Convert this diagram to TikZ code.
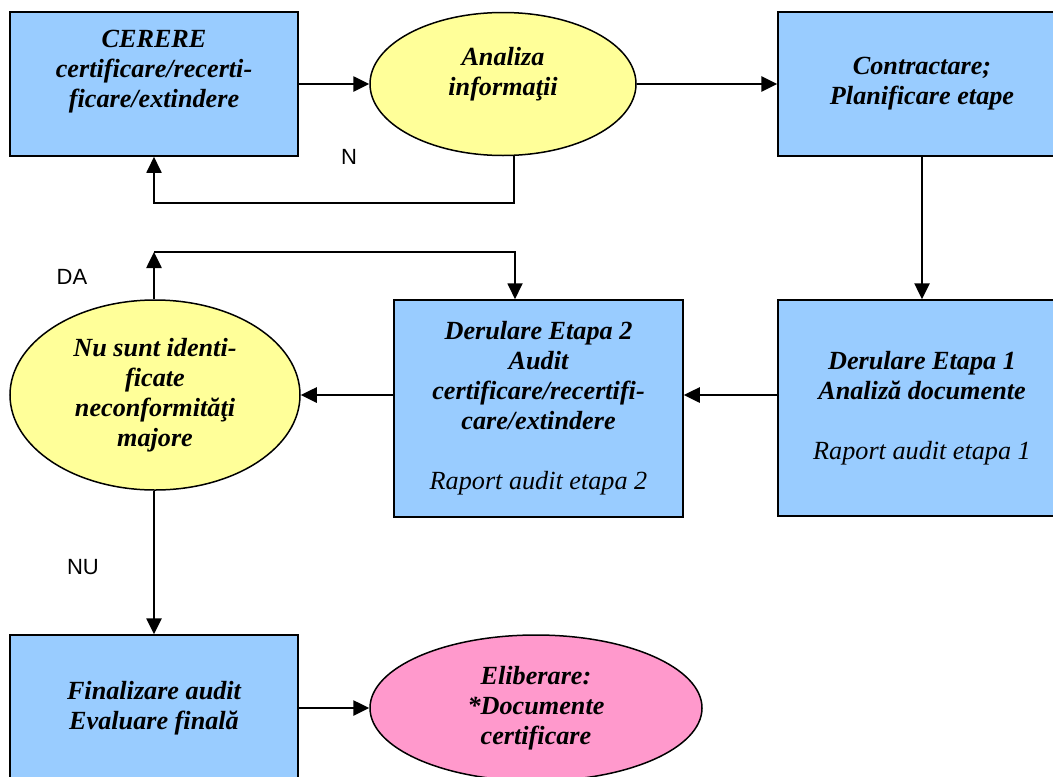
\documentclass[tikz,border=0pt]{standalone}
\usepackage{fontspec}
\setmainfont{Liberation Serif}
\newfontfamily\lblfont{Liberation Sans}
\usetikzlibrary{shapes.geometric,arrows.meta}
\definecolor{boxblue}{HTML}{99CCFF}
\definecolor{ellyellow}{HTML}{FFFF99}
\definecolor{ellpink}{HTML}{FF99CC}
\tikzset{
  txtstyle/.style={align=center,font=\fontsize{13.1pt}{15pt}\selectfont\bfseries\itshape,inner sep=0pt},
  bluebox/.style={draw=black,line width=0.75pt,fill=boxblue,rectangle,inner sep=0pt,minimum width=144pt,minimum height=72pt},
  yellowell/.style={draw=black,line width=0.75pt,fill=ellyellow,ellipse,inner sep=0pt},
  pinkell/.style={draw=black,line width=0.75pt,fill=ellpink,ellipse,inner sep=0pt},
  conn/.style={line width=1.3pt,-{Triangle[length=8pt,width=7.5pt]}},
  thinconn/.style={line width=0.9pt,-{Triangle[length=8pt,width=7.5pt]}},
  lbl/.style={font=\lblfont\fontsize{11pt}{13pt}\selectfont,inner sep=0pt},
}
\begin{document}
\begin{tikzpicture}[x=0.5pt,y=-0.5pt]
\useasboundingbox (0,0) rectangle (1053,776);
\clip (0,0) rectangle (1053,776);
% shapes
\node[bluebox] (cerere) at (154,84) {};
\node[txtstyle] (cerereT) at (154,72) {CERERE\\certificare/recerti-\\ficare/extindere};
\node[yellowell,minimum width=133pt,minimum height=71.5pt] (analiza) at (503,84) {};
\node[txtstyle] (analizaT) at (503,74) {Analiza\\informaţii};
\node[bluebox,txtstyle,minimum width=144pt,minimum height=72pt] (contr) at (922,84) {Contractare;\\Planificare etape};
\node[bluebox,txtstyle,minimum width=144pt,minimum height=108pt] (e1) at (922,408) {Derulare Etapa 1\\Analiză documente\\[15pt]{\mdseries Raport audit etapa 1}};
\node[bluebox,txtstyle,minimum width=144.5pt,minimum height=108.5pt] (e2) at (538.5,408.5) {Derulare Etapa 2\\Audit\\certificare/recertifi-\\care/extindere\\[15pt]{\mdseries Raport audit etapa 2}};
\node[yellowell,txtstyle,minimum width=145pt,minimum height=95pt] (nu) at (155,395) {Nu sunt identi-\\ficate\\neconformităţi\\majore};
\node[bluebox,txtstyle,minimum width=144pt,minimum height=73pt] (fin) at (154,708) {Finalizare audit\\Evaluare finală};
\node[pinkell,txtstyle,minimum width=166pt,minimum height=73pt] (elib) at (536,708) {Eliberare:\\*Documente\\certificare};
% labels
\node[lbl] (labN) at (349,157) {N};
\node[lbl] (labDA) at (72,277) {DA};
\node[lbl] (labNU) at (83,567) {NU};
% connectors
\coordinate (nloop) at (514,203);
\coordinate (da) at (154,252);
\coordinate (db) at (515,252);
\draw[conn] (cerere.east) -- (analiza.west);
\draw[conn] (analiza.east) -- (contr.west);
\draw[thinconn] (analiza.south -| nloop) -- (nloop) -| (cerere.south);
\draw[conn] (contr.south) -- (e1.north);
\draw[conn] (e1.west |- nu) -- (e2.east |- nu);
\draw[conn] (e2.west |- nu) -- (nu.east);
\draw[conn] (nu.north -| da) -- (da);
\draw[thinconn] (da) -- (db) -- (db |- e2.north);
\draw[conn] (nu.south -| da) -- (fin.north);
\draw[conn] (fin.east) -- (elib.west);
\end{tikzpicture}
\end{document}
